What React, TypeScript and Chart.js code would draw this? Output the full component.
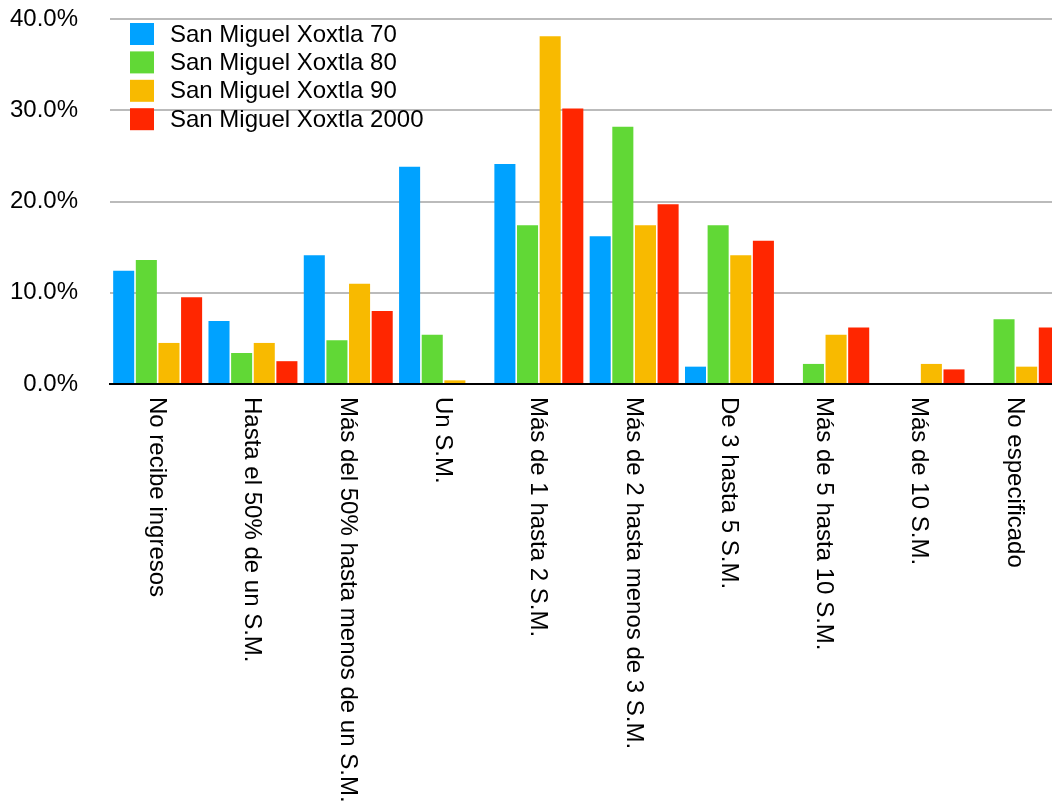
import React, { useEffect, useRef } from 'react';
import { Chart, registerables } from 'chart.js';

Chart.register(...registerables);

const categories = [
  'No recibe ingresos',
  'Hasta el 50% de un S.M.',
  'Más del 50% hasta menos de un S.M.',
  'Un S.M.',
  'Más de 1 hasta 2 S.M.',
  'Más de 2 hasta menos de 3 S.M.',
  'De 3 hasta 5 S.M.',
  'Más de 5 hasta 10 S.M.',
  'Más de 10 S.M.',
  'No especificado',
];

const seriesNames = [
  'San Miguel Xoxtla 70',
  'San Miguel Xoxtla 80',
  'San Miguel Xoxtla 90',
  'San Miguel Xoxtla 2000',
];

const values70 = [12.4, 6.9, 14.1, 23.8, 24.1, 16.2, 1.9, 0, 0, 0];
const values80 = [13.6, 3.4, 4.8, 5.4, 17.4, 28.2, 17.4, 2.2, 0, 7.1];
const values90 = [4.5, 4.5, 11.0, 0.4, 38.1, 17.4, 14.1, 5.4, 2.2, 1.9];
const values2000 = [9.5, 2.5, 8.0, 0, 30.2, 19.7, 15.7, 6.2, 1.6, 6.2];

const yTicks = [0, 10, 20, 30, 40];

const seriesColors = ['#00A2FF', '#61D836', '#F8BA00', '#FF2600'];

const FONT = '"Liberation Sans", Arial, Helvetica, sans-serif';
const FONT_SIZE = 24;

const legendPlugin = {
  id: 'insideLegend',
  afterDraw(chart: any) {
    const { ctx, chartArea } = chart;
    ctx.save();
    ctx.font = `${FONT_SIZE}px ${FONT}`;
    ctx.textBaseline = 'middle';
    ctx.textAlign = 'left';
    chart.data.datasets.forEach((ds: any, i: number) => {
      const y = chartArea.top + 4 + i * 28.4;
      ctx.fillStyle = ds.backgroundColor;
      ctx.fillRect(chartArea.left + 20, y, 24, 22);
      ctx.fillStyle = '#000';
      ctx.fillText(ds.label, chartArea.left + 60, y + 12);
    });
    ctx.restore();
  },
};

const xLabelsPlugin = {
  id: 'rotatedXLabels',
  afterDraw(chart: any) {
    const { ctx, chartArea } = chart;
    const xs = chart.scales.x;
    ctx.save();
    ctx.font = `${FONT_SIZE}px ${FONT}`;
    ctx.textBaseline = 'middle';
    ctx.textAlign = 'left';
    ctx.fillStyle = '#000';
    (chart.data.labels as string[]).forEach((label, i) => {
      const x = xs.getPixelForValue(i);
      ctx.save();
      ctx.translate(x - 1, chartArea.bottom + 13);
      ctx.rotate(Math.PI / 2);
      ctx.fillText(label, 0, 0);
      ctx.restore();
    });
    ctx.restore();
  },
};

export default function App() {
  const ref = useRef<HTMLCanvasElement>(null);

  useEffect(() => {
    document.body.style.margin = '0';
    document.body.style.overflow = 'hidden';
    const canvas = ref.current!;
    const allValues = [values70, values80, values90, values2000];
    const chart = new Chart(canvas, {
      type: 'bar',
      data: {
        labels: categories,
        datasets: seriesNames.map((name, i) => ({
          label: name,
          data: allValues[i],
          backgroundColor: seriesColors[i],
          borderWidth: 0,
          barPercentage: 0.93,
          categoryPercentage: 0.95,
        })),
      },
      options: {
        responsive: false,
        animation: false,
        devicePixelRatio: 1,
        layout: { padding: { left: 10, right: 7, top: 19, bottom: 0 } },
        plugins: {
          legend: { display: false },
          title: { display: false },
          tooltip: { enabled: false },
        },
        scales: {
          x: {
            z: 1,
            grid: { display: false, drawTicks: false },
            ticks: { display: false },
            border: { display: true, color: '#000', width: 2 },
            afterFit(scale: any) {
              scale.height = 422;
              scale.paddingLeft = 0;
              scale.paddingRight = 0;
              scale.paddingTop = 0;
              scale.paddingBottom = 0;
            },
          },
          y: {
            min: 0,
            max: 40,
            afterBuildTicks(scale: any) {
              scale.ticks = yTicks.map((v) => ({ value: v }));
            },
            afterFit(scale: any) {
              scale.width = 100;
              scale.paddingTop = 0;
              scale.paddingBottom = 0;
              scale.paddingLeft = 0;
              scale.paddingRight = 0;
            },
            grid: { color: '#BBBBBB', lineWidth: 2, drawTicks: false },
            border: { display: false },
            ticks: {
              padding: 32,
              color: '#000',
              font: { family: FONT, size: FONT_SIZE },
              callback: (v: any) => Number(v).toFixed(1) + '%',
            },
          },
        },
      },
      plugins: [legendPlugin, xLabelsPlugin],
    });
    return () => chart.destroy();
  }, []);

  return (
    <div style={{ width: 1052, height: 806, overflow: 'hidden' }}>
      <canvas ref={ref} width={1070} height={806} style={{ display: 'block' }} />
    </div>
  );
}
